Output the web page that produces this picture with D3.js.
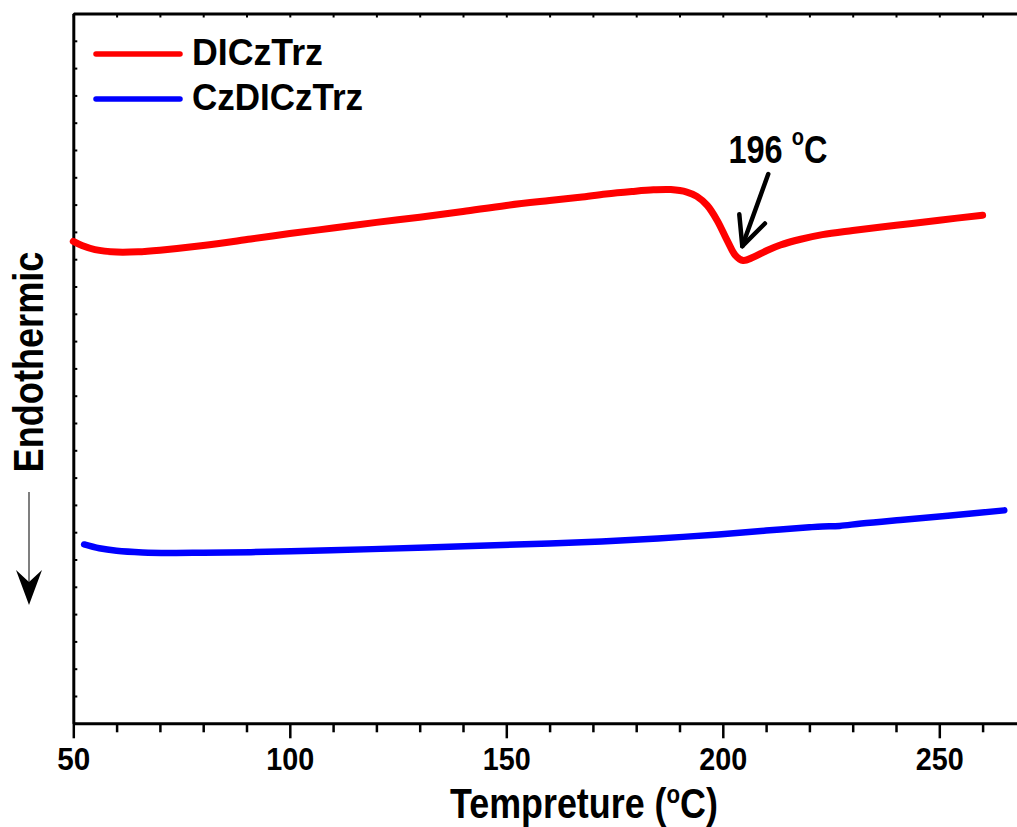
<!DOCTYPE html>
<meta charset="utf-8">
<html>
<head>
<script src="https://cdn.jsdelivr.net/npm/d3@7"></script>
<style>
body { margin: 0; background: #fff; }
text { font-family: "Liberation Sans", Arial, sans-serif; font-weight: bold; fill: #000; }
</style>
</head>
<body>
<script>

// DSC traces, temperature (C) vs heat flow (arb. units, endo down)
var redT = [50, 52, 55, 60, 65, 70, 80, 91, 100, 110, 120, 130, 140, 150, 160, 167, 173, 179, 184, 188,
            191.7, 194, 196.4, 198.7, 201, 202.9, 204.7, 207, 210.2, 213.3, 218, 223, 230, 240, 250, 260];
var redY = [17.65, 17.50, 17.35, 17.26, 17.27, 17.33, 17.50, 17.74, 17.94, 18.14, 18.35, 18.54, 18.75, 18.97, 19.15, 19.27, 19.39, 19.48, 19.54, 19.55,
            19.46, 19.30, 18.97, 18.42, 17.69, 17.14, 16.95, 17.07, 17.32, 17.52, 17.73, 17.90, 18.05, 18.24, 18.43, 18.61];

var blueT = [52.5, 56, 60, 66, 72, 80, 91, 105, 119, 142, 160, 172, 185, 199, 210, 220, 223, 227, 232, 241, 252, 265];
var blueY = [6.55, 6.41, 6.32, 6.26, 6.24, 6.25, 6.27, 6.32, 6.38, 6.49, 6.59, 6.66, 6.77, 6.92, 7.06, 7.18, 7.21, 7.23, 7.32, 7.45, 7.60, 7.80];

var seriesNames  = ["DICzTrz", "CzDICzTrz"];
var seriesColors = ["#ff0000", "#0000ff"];

var xMajor = [50, 100, 150, 200, 250];
var xMinor = d3.range(60, 270, 10).filter(function(v) { return v % 50 != 0; });
var xTop   = d3.range(50, 271, 10);
var yTicks = d3.range(0, 27, 1);

// annotation: arrow tail/tip and label anchor, in data units
var annTail  = [210.5, 20.12];
var annTip   = [204.5, 17.48];
var annLabel = [201.3, 20.52];

var W = 1017, H = 827;

var svg = d3.select("body").append("svg")
  .attr("width", W)
  .attr("height", H);

var x = d3.scaleLinear().domain([50, 270]).range([73.3, 73.3 + 220 * 4.33]);
var y = d3.scaleLinear().domain([0, 26]).range([723.3, 13.5]);

// squeeze a text horizontally to a target width (the original font is narrower)
function fitWidth(sel, target, ax, ay) {
  var w = sel.node().getBBox().width;
  var s = target / w;
  sel.attr("transform", "translate(" + ax + "," + ay + ") scale(" + s + ",1) translate(" + (-ax) + "," + (-ay) + ")");
}

// ---- axes ----
var bottomAxis = svg.append("g")
  .attr("transform", "translate(0," + y(0) + ")")
  .call(d3.axisBottom(x).tickValues(xMajor).tickSize(15).tickSizeOuter(0).tickFormat(d3.format("d")));
bottomAxis.selectAll(".tick line").attr("stroke-width", 2.5);
bottomAxis.select(".domain").attr("stroke-width", 3);
bottomAxis.selectAll(".tick text")
  .attr("dy", 0)
  .attr("y", 47)
  .style("font-size", "32px")
  .each(function(d) {
    fitWidth(d3.select(this), d < 100 ? 33 : 48, 0, 47);
  });

var minorAxis = svg.append("g")
  .attr("transform", "translate(0," + y(0) + ")")
  .call(d3.axisBottom(x).tickValues(xMinor).tickSize(9).tickSizeOuter(0).tickFormat(""));
minorAxis.select(".domain").remove();
minorAxis.selectAll(".tick line").attr("stroke-width", 2.5);

var topAxis = svg.append("g")
  .attr("transform", "translate(0," + y(26) + ")")
  .call(d3.axisBottom(x).tickValues(xTop).tickSize(4).tickSizeOuter(0).tickFormat(""));
topAxis.select(".domain").attr("stroke-width", 3);
topAxis.selectAll(".tick line").attr("stroke-width", 2);

var leftAxis = svg.append("g")
  .attr("transform", "translate(" + x(50) + ",0)")
  .call(d3.axisRight(y).tickValues(yTicks).tickSize(4).tickSizeOuter(0).tickFormat(""));
leftAxis.select(".domain").attr("stroke-width", 3);
leftAxis.selectAll(".tick line").attr("stroke-width", 2);

// ---- curves ----
var line = d3.line()
  .x(function(d) { return x(d[0]); })
  .y(function(d) { return y(d[1]); })
  .curve(d3.curveCatmullRom.alpha(0.5));

var series = [d3.zip(redT, redY), d3.zip(blueT, blueY)];

svg.selectAll(".trace")
  .data(series)
  .enter().append("path")
  .attr("class", "trace")
  .attr("d", line)
  .attr("fill", "none")
  .attr("stroke", function(d, i) { return seriesColors[i]; })
  .attr("stroke-width", function(d, i) { return i == 0 ? 7 : 6.5; })
  .attr("stroke-linecap", "round")
  .attr("stroke-linejoin", "round");

// ---- legend ----
var legY = [54, 99], legW = [131, 171];
seriesNames.forEach(function(name, i) {
  svg.append("line")
    .attr("x1", 96).attr("x2", 180)
    .attr("y1", legY[i]).attr("y2", legY[i])
    .attr("stroke", seriesColors[i])
    .attr("stroke-width", 5.5)
    .attr("stroke-linecap", "round");
  var t = svg.append("text")
    .attr("x", 192).attr("y", legY[i] + 11)
    .style("font-size", "37px")
    .text(name);
  fitWidth(t, legW[i], 192, legY[i] + 11);
});

// ---- axis titles ----
var xt = svg.append("text")
  .attr("x", 450).attr("y", 818)
  .style("font-size", "42px");
xt.append("tspan").text("Tempreture (");
xt.append("tspan").attr("dy", -15).style("font-size", "26px").text("o");
xt.append("tspan").attr("dy", 15).text("C)");
fitWidth(xt, 268, 450, 818);

var yt = svg.append("text")
  .attr("transform", "translate(43,362) rotate(-90)")
  .attr("text-anchor", "middle")
  .style("font-size", "42px")
  .text("Endothermic");
var ytw = yt.node().getBBox().width;
yt.attr("transform", "translate(43,362) rotate(-90) scale(" + (221 / ytw) + ",1)");

// endothermic direction arrow
svg.append("line")
  .attr("x1", 29).attr("x2", 29)
  .attr("y1", 492).attr("y2", 585)
  .attr("stroke", "#555")
  .attr("stroke-width", 1.5);
svg.append("path")
  .attr("d", "M29,605 L42,570 L29,582 L16,570 Z")
  .attr("fill", "#000");

// ---- 196 C annotation ----
var tipX = x(annTip[0]), tipY = y(annTip[1]);
var tailX = x(annTail[0]), tailY = y(annTail[1]);
svg.append("line")
  .attr("x1", tailX).attr("y1", tailY)
  .attr("x2", tipX).attr("y2", tipY)
  .attr("stroke", "#000").attr("stroke-width", 4.5)
  .attr("stroke-linecap", "round");
var ang = Math.atan2(tailY - tipY, tailX - tipX);
[-0.44, 0.44].forEach(function(da) {
  svg.append("line")
    .attr("x1", tipX).attr("y1", tipY)
    .attr("x2", tipX + 32 * Math.cos(ang + da))
    .attr("y2", tipY + 32 * Math.sin(ang + da))
    .attr("stroke", "#000").attr("stroke-width", 4.5)
    .attr("stroke-linecap", "round");
});

var lx = x(annLabel[0]), ly = y(annLabel[1]);
var at = svg.append("text")
  .attr("x", lx).attr("y", ly)
  .style("font-size", "39px");
at.append("tspan").text("196 ");
at.append("tspan").attr("dy", -18).style("font-size", "24px").text("o");
at.append("tspan").attr("dy", 18).text("C");
fitWidth(at, 99, lx, ly);

</script>
</body>
</html>
